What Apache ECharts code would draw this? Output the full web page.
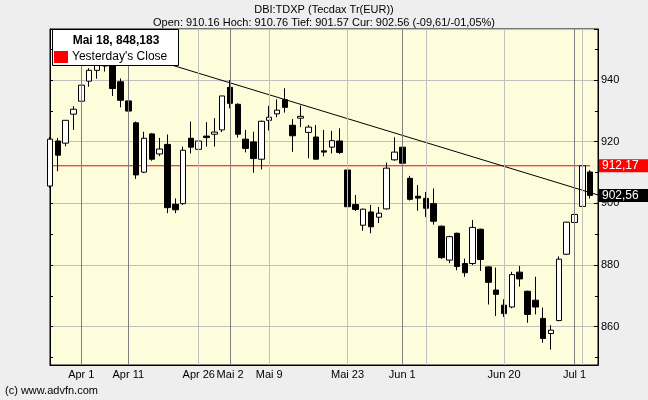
<!DOCTYPE html>
<html><head><meta charset="utf-8">
<script src="https://cdn.jsdelivr.net/npm/echarts@6/dist/echarts.min.js"></script>
<style>html,body{margin:0;padding:0;background:#eeeeee}#c{width:648px;height:400px}</style>
</head><body><div id="c"></div>
<script>
// Trading days (category axis); last category is an empty slot at the right edge
const categories = [
  'Mär 28','Mär 29','Mär 30','Mär 31',
  'Apr 1','Apr 4','Apr 5','Apr 6','Apr 7','Apr 8','Apr 11','Apr 12','Apr 13','Apr 14','Apr 15',
  'Apr 18','Apr 19','Apr 20','Apr 21','Apr 26','Apr 27','Apr 28','Apr 29',
  'Mai 2','Mai 3','Mai 4','Mai 5','Mai 6','Mai 9','Mai 10','Mai 11','Mai 12','Mai 13',
  'Mai 16','Mai 17','Mai 18','Mai 19','Mai 20','Mai 23','Mai 24','Mai 25','Mai 26','Mai 27','Mai 30','Mai 31',
  'Jun 1','Jun 2','Jun 3','Jun 6','Jun 7','Jun 8','Jun 9','Jun 10','Jun 13','Jun 14','Jun 15','Jun 16','Jun 17',
  'Jun 20','Jun 21','Jun 22','Jun 23','Jun 24','Jun 27','Jun 28','Jun 29','Jun 30',
  'Jul 1','Jul 4','Jul 5','Jul 6'
];
const openVals = [
  905.6,920.2,919.5,928.9,933.1,939.6,943.1,944.5,944.8,939.4,
  933.2,926.1,910.1,922.5,916.0,919.1,899.7,899.9,921.1,917.5,
  921.8,922.4,923.8,937.6,932.1,920.8,919.9,914.3,926.9,929.0,
  933.6,925.3,927.6,923.0,921.5,917.0,918.2,920.2,910.8,899.6,
  892.9,897.2,895.5,898.2,914.1,918.2,908.1,902.3,901.6,899.9,
  892.6,881.6,890.3,880.5,880.5,891.6,879.4,871.9,867.0,866.4,
  877.7,871.5,868.6,862.7,857.8,862.0,883.5,893.8,899.0,910.16
];
const closeVals = [
  920.8,915.6,926.9,930.5,938.3,943.1,944.8,944.9,937.2,933.4,
  929.9,909.2,921.1,914.3,917.6,898.6,897.9,917.2,918.2,920.2,
  921.3,923.1,934.8,932.4,922.4,917.8,914.5,926.6,927.9,930.2,
  931.1,921.9,928.2,924.7,914.3,916.6,920.3,916.5,898.9,898.0,
  898.1,892.4,896.8,911.4,916.6,913.0,901.3,901.7,898.4,894.2,
  882.4,889.2,879.5,877.5,892.2,881.8,874.4,870.5,864.3,876.9,
  875.5,864.0,866.4,856.2,858.9,881.9,893.9,896.4,912.17,902.56
];
const lowVals = [
  905.0,910.4,918.5,923.8,930.3,937.8,940.4,942.7,934.8,931.1,
  927.0,907.9,909.8,913.8,915.3,896.8,896.8,899.5,916.2,916.4,
  918.4,918.4,923.1,930.8,921.3,916.5,909.9,911.0,923.6,927.9,
  929.4,916.7,924.7,914.6,914.3,915.2,916.2,916.0,896.4,897.5,
  891.1,890.3,893.6,898.0,913.8,911.9,900.9,897.6,895.6,893.1,
  882.0,880.6,878.3,876.2,880.0,878.1,867.2,863.5,863.2,866.0,
  873.0,861.3,864.0,854.8,852.6,861.8,883.3,888.7,898.7,901.57
];
const highVals = [
  921.5,921.2,927.0,931.5,939.6,943.8,945.6,946.2,946.0,940.5,
  936.8,926.5,923.2,922.8,921.2,922.3,901.6,918.4,926.5,923.8,
  926.3,927.6,934.8,940.0,932.4,923.8,923.2,926.8,931.6,933.7,
  937.3,927.3,931.7,925.4,925.4,923.8,923.5,924.3,911.0,902.7,
  898.3,899.5,898.8,913.2,921.4,918.9,908.9,905.9,903.7,904.8,
  892.8,889.5,890.5,882.1,894.6,891.8,879.6,879.2,868.9,877.8,
  879.7,871.7,876.2,866.2,860.5,882.8,894.0,898.9,912.4,910.76
];
const tickLabels = ['Apr 1','Apr 11','Apr 26','Mai 2','Mai 9','Mai 23','Jun 1','Jun 20','Jul 1'];
const darkLines = ['Apr 1','Apr 11','Mai 2','Jun 1','Jul 1'];
const lightLines = ['Apr 26','Mai 9','Mai 23','Jun 6','Jun 20','Jul 4'];
const yesterdayClose = 912.17;
const currentValue = 902.56;
const trendStart = ['Apr 5', 952.2];
const trendEnd = ['Jul 6', 902.7];
const yMin = 847.6, yMax = 956.5;
const titleText = 'DBI:TDXP (Tecdax Tr(EUR))';
const subText = 'Open: 910.16 Hoch: 910.76 Tief: 901.57 Cur: 902.56 (-09,61/-01,05%)';
const cursorText = 'Mai 18, 848,183';
const legendText = "Yesterday's Close";
const copyrightText = '(c) www.advfn.com';

const FONT = '"Liberation Sans", Arial, sans-serif';
const candleData = openVals.map((o, i) => [o, closeVals[i], lowVals[i], highVals[i]]);
const nLast = openVals.length - 1;
const fmt = v => v.toFixed(2).replace('.', ',');
const TRANSPARENT = 'rgba(0,0,0,0)';

const chart = echarts.init(document.getElementById('c'), null, {renderer: 'canvas'});
chart.setOption({
  animation: false,
  backgroundColor: '#eeeeee',
  textStyle: {fontFamily: FONT},
  title: [
    {text: titleText, left: 'center', top: 4, padding: 0, textStyle: {fontSize: 11, fontWeight: 'normal', color: '#000', fontFamily: FONT}},
    {text: subText, left: 'center', top: 17, padding: 0, textStyle: {fontSize: 11, fontWeight: 'normal', color: '#000', fontFamily: FONT}}
  ],
  grid: {left: 50, right: 50, top: 29, bottom: 35, show: true, backgroundColor: '#fdfddc', borderColor: '#000', borderWidth: 1},
  xAxis: {
    type: 'category', data: categories, boundaryGap: false,
    axisLine: {show: true, lineStyle: {color: '#000'}},
    axisTick: {show: false},
    splitLine: {show: false},
    axisLabel: {
      interval: (idx, val) => tickLabels.includes(val),
      color: '#000', fontSize: 11, margin: 4, fontFamily: FONT
    }
  },
  yAxis: [
    {
      type: 'value', position: 'right', min: yMin, max: yMax, splitNumber: 5, scale: true,
      axisLine: {show: true, lineStyle: {color: '#000'}},
      axisTick: {show: true, inside: true, length: 4, lineStyle: {color: '#000'}},
      minorTick: {show: true, splitNumber: 2, length: 3, lineStyle: {color: '#000'}},
      splitLine: {show: true, lineStyle: {color: '#c0c0c0', width: 1}},
      axisLabel: {color: '#000', fontSize: 11, margin: 3, showMinLabel: false, showMaxLabel: false, fontFamily: FONT}
    },
    {
      type: 'value', position: 'left', min: yMin, max: yMax, splitNumber: 5, scale: true,
      axisLine: {show: true, lineStyle: {color: '#000'}},
      axisTick: {show: true, inside: true, length: 3, lineStyle: {color: '#000'}},
      minorTick: {show: true, splitNumber: 2, length: 3, lineStyle: {color: '#000'}},
      splitLine: {show: false},
      axisLabel: {show: false}
    }
  ],
  series: [
    {
      type: 'line', data: [], z: 1, silent: true,
      markLine: {
        silent: true, symbol: 'none', animation: false, label: {show: false},
        data: darkLines.map(d => ({xAxis: d, lineStyle: {color: '#808080', width: 1, type: 'solid'}}))
          .concat(lightLines.map(d => ({xAxis: d, lineStyle: {color: '#c0c0c0', width: 1, type: 'solid'}})))
      }
    },
    {
      type: 'line', z: 2, silent: true, symbol: 'none',
      data: [[categories[0], yesterdayClose], [categories[nLast], yesterdayClose]],
      lineStyle: {color: '#ff0000', width: 1},
      markLine: {
        silent: true, symbol: 'none', animation: false,
        lineStyle: {color: TRANSPARENT, width: 1, type: 'solid'},
        label: {show: true, position: 'end', distance: 1, color: '#fff', padding: [1, 14, 0, 3], fontSize: 12, fontFamily: FONT,
                formatter: p => fmt(p.value)},
        data: [
          {yAxis: yesterdayClose, lineStyle: {color: TRANSPARENT}, label: {backgroundColor: '#ff0000'}},
          {yAxis: currentValue, lineStyle: {color: TRANSPARENT}, label: {backgroundColor: '#000000'}}
        ]
      }
    },
    {
      type: 'candlestick', z: 3, data: candleData, barWidth: 6, clip: true,
      itemStyle: {color: '#ffffff', color0: '#000000', borderColor: '#000000', borderColor0: '#000000', borderWidth: 1}
    },
    {
      type: 'line', z: 4, silent: true, symbol: 'none',
      data: [trendStart, trendEnd],
      lineStyle: {color: '#000', width: 1}
    }
  ],
  graphic: [
    {type: 'rect', z: 100, shape: {x: 52.5, y: 29.5, width: 126, height: 36}, style: {fill: '#fff', stroke: '#000', lineWidth: 1}},
    {type: 'text', z: 101, x: 116, y: 41, style: {text: cursorText, font: 'bold 12px ' + FONT, fill: '#000', textAlign: 'center', textVerticalAlign: 'middle'}},
    {type: 'rect', z: 101, shape: {x: 54, y: 51, width: 14, height: 12}, style: {fill: '#ff0000'}},
    {type: 'text', z: 101, x: 72, y: 57, style: {text: legendText, font: '12px ' + FONT, fill: '#000', textAlign: 'left', textVerticalAlign: 'middle'}},
    {type: 'text', z: 101, x: 5, y: 391, style: {text: copyrightText, font: '11px ' + FONT, fill: '#000', textAlign: 'left', textVerticalAlign: 'middle'}}
  ]
});
</script>
</body></html>
